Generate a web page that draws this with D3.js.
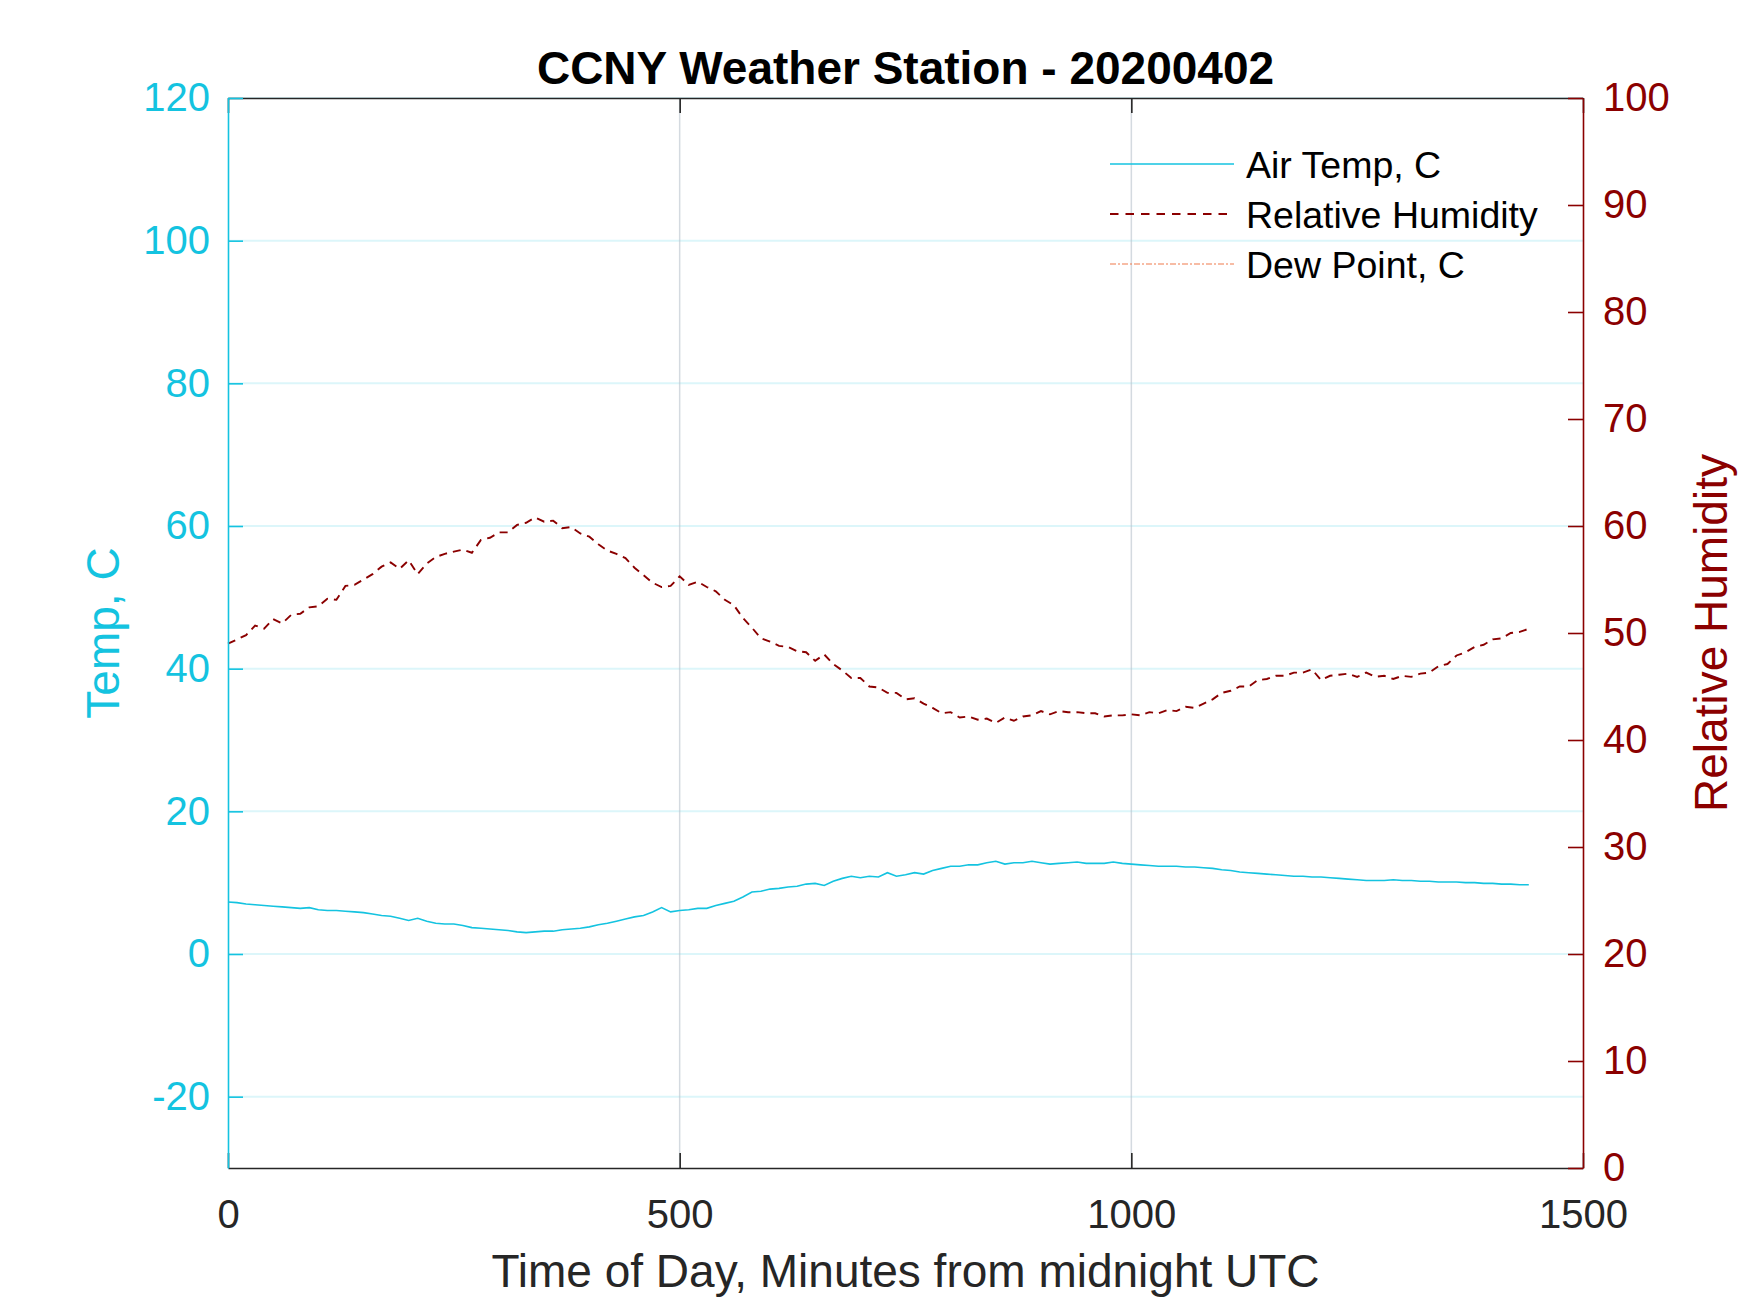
<!DOCTYPE html>
<html>
<head>
<meta charset="utf-8">
<script src="https://cdn.jsdelivr.net/npm/d3@7/dist/d3.min.js"></script>
<style>
	body { margin: 0; background: #fff; }
	text { font-family: "Liberation Sans", Arial, Helvetica, sans-serif; }
</style>
</head>
<body>
<svg id="chart" width="1750" height="1313"></svg>
<script>
// samples every 10 minutes
var sampleStep = 10;

var airTemp = [
	7.3, 7.2, 7.0, 6.9, 6.8, 6.7, 6.6, 6.5, 6.4, 6.5,
	6.2, 6.1, 6.1, 6.0, 5.9, 5.8, 5.6, 5.4, 5.3, 5.0,
	4.7, 5.0, 4.6, 4.3, 4.2, 4.2, 4.0, 3.7, 3.6, 3.5,
	3.4, 3.3, 3.1, 3.0, 3.1, 3.2, 3.2, 3.4, 3.5, 3.6,
	3.8, 4.1, 4.3, 4.6, 4.9, 5.2, 5.4, 5.9, 6.5, 5.9,
	6.1, 6.2, 6.4, 6.4, 6.8, 7.1, 7.4, 8.0, 8.7, 8.8,
	9.1, 9.2, 9.4, 9.5, 9.8, 9.9, 9.6, 10.2, 10.6, 10.9,
	10.7, 10.9, 10.8, 11.4, 10.9, 11.1, 11.4, 11.2, 11.7, 12.0,
	12.3, 12.3, 12.5, 12.5, 12.8, 13.0, 12.6, 12.8, 12.8, 13.0,
	12.8, 12.6, 12.7, 12.8, 12.9, 12.7, 12.7, 12.7, 12.9, 12.7,
	12.6, 12.5, 12.4, 12.3, 12.3, 12.3, 12.2, 12.2, 12.1, 12.0,
	11.8, 11.7, 11.5, 11.4, 11.3, 11.2, 11.1, 11.0, 10.9, 10.9,
	10.8, 10.8, 10.7, 10.6, 10.5, 10.4, 10.3, 10.3, 10.3, 10.4,
	10.3, 10.3, 10.2, 10.2, 10.1, 10.1, 10.1, 10.0, 10.0, 9.9,
	9.9, 9.8, 9.8, 9.7, 9.7
];

var relHumidity = [
	49.0, 49.4, 49.8, 50.7, 50.4, 51.3, 50.9, 51.7, 51.8, 52.4,
	52.5, 53.2, 53.1, 54.4, 54.5, 55.0, 55.5, 56.2, 56.6, 56.0,
	56.8, 55.5, 56.5, 57.1, 57.4, 57.6, 57.8, 57.5, 58.7, 58.9,
	59.4, 59.4, 60.1, 60.3, 60.8, 60.4, 60.5, 59.8, 59.9, 59.3,
	59.0, 58.3, 57.7, 57.4, 57.0, 56.1, 55.4, 54.7, 54.3, 54.4,
	55.3, 54.5, 54.8, 54.3, 53.9, 53.1, 52.6, 51.4, 50.5, 49.5,
	49.2, 48.8, 48.7, 48.3, 48.2, 47.4, 48.0, 47.1, 46.5, 45.8,
	45.8, 45.0, 44.9, 44.4, 44.4, 43.8, 43.9, 43.4, 43.0, 42.5,
	42.6, 42.1, 42.2, 41.9, 42.0, 41.6, 42.1, 41.8, 42.2, 42.3,
	42.7, 42.4, 42.7, 42.6, 42.6, 42.5, 42.5, 42.2, 42.3, 42.3,
	42.4, 42.3, 42.6, 42.5, 42.8, 42.7, 43.1, 43.0, 43.4, 43.8,
	44.4, 44.6, 45.0, 45.0, 45.6, 45.7, 46.0, 46.0, 46.3, 46.3,
	46.6, 45.6, 46.0, 46.1, 46.2, 45.9, 46.3, 45.9, 46.0, 45.7,
	46.0, 45.9, 46.2, 46.3, 46.9, 47.1, 47.9, 48.2, 48.7, 48.9,
	49.4, 49.5, 50.0, 50.1, 50.4
];

var xTicks = [0, 500, 1000, 1500];
var tempTicks = [-20, 0, 20, 40, 60, 80, 100, 120];
var rhTicks = [0, 10, 20, 30, 40, 50, 60, 70, 80, 90, 100];
var legendLabels = ["Air Temp, C", "Relative Humidity", "Dew Point, C"];

var tempColor = "#14c3e0";
var rhColor = "#8b0000";
var dewColor = "#f07a4c";
var boxColor = "#262626";

var svg = d3.select("#chart");
var margin = {left: 228, right: 1583, top: 98, bottom: 1168};
var tickLen = 15;

var x = d3.scaleLinear().domain([0, 1500]).range([margin.left, margin.right]);
var yTemp = d3.scaleLinear().domain([-30, 120]).range([margin.bottom, margin.top]);
var yRh = d3.scaleLinear().domain([0, 100]).range([margin.bottom, margin.top]);

// plain labels, hyphen minus and no thousands comma
var plainNumber = function(d) { return String(d); };

// grid
svg.append("g").selectAll("line.hgrid").data(tempTicks).enter().append("line")
	.classed("hgrid", 1)
	.attr("x1", margin.left).attr("x2", margin.right)
	.attr("y1", function(d) { return yTemp(d); })
	.attr("y2", function(d) { return yTemp(d); })
	.attr("stroke", tempColor).attr("stroke-opacity", 0.15).attr("stroke-width", 2);

svg.append("g").selectAll("line.vgrid").data(xTicks.slice(1, 3)).enter().append("line")
	.classed("vgrid", 1)
	.attr("x1", function(d) { return x(d); })
	.attr("x2", function(d) { return x(d); })
	.attr("y1", margin.top).attr("y2", margin.bottom)
	.attr("stroke", "#b8c2cc").attr("stroke-opacity", 0.6).attr("stroke-width", 1.5);

// data lines
var tempLine = d3.line()
	.x(function(d, i) { return x(i * sampleStep); })
	.y(function(d) { return yTemp(d); });

var rhLine = d3.line()
	.x(function(d, i) { return x(i * sampleStep); })
	.y(function(d) { return yRh(d); });

svg.append("path").datum(airTemp)
	.attr("d", tempLine)
	.attr("fill", "none")
	.attr("stroke", tempColor)
	.attr("stroke-width", 1.6);

svg.append("path").datum(relHumidity)
	.attr("d", rhLine)
	.attr("fill", "none")
	.attr("stroke", rhColor)
	.attr("stroke-width", 1.9)
	.attr("stroke-dasharray", "8,6");

// axes
var bottomAxis = d3.axisBottom(x).tickValues(xTicks).tickFormat(plainNumber).tickSizeInner(-tickLen).tickSizeOuter(0).tickPadding(32);
var topAxis = d3.axisTop(x).tickValues(xTicks).tickSizeInner(-tickLen).tickSizeOuter(0).tickFormat("");
var leftAxis = d3.axisLeft(yTemp).tickValues(tempTicks).tickFormat(plainNumber).tickSizeInner(-tickLen).tickSizeOuter(0).tickPadding(18);
var rightAxis = d3.axisRight(yRh).tickValues(rhTicks).tickFormat(plainNumber).tickSizeInner(-tickLen).tickSizeOuter(0).tickPadding(20);

function styleAxis(g, color)
{
	g.select(".domain").attr("stroke", color).attr("stroke-width", 1.6);
	g.selectAll(".tick line").attr("stroke", color).attr("stroke-width", 1.6);
	g.selectAll(".tick text")
		.attr("fill", color)
		.attr("font-size", "40px")
		.attr("font-family", "Liberation Sans, Arial, sans-serif");
}

svg.append("g").attr("transform", "translate(0," + margin.bottom + ")").call(bottomAxis).call(styleAxis, boxColor);
svg.append("g").attr("transform", "translate(0," + margin.top + ")").call(topAxis).call(styleAxis, boxColor);
svg.append("g").attr("transform", "translate(" + margin.left + ",0)").call(leftAxis).call(styleAxis, tempColor);
svg.append("g").attr("transform", "translate(" + margin.right + ",0)").call(rightAxis).call(styleAxis, rhColor);

// titles
svg.append("text")
	.text("CCNY Weather Station - 20200402")
	.attr("x", (margin.left + margin.right) / 2)
	.attr("y", 84)
	.attr("text-anchor", "middle")
	.attr("font-size", "46px")
	.attr("font-weight", "bold")
	.attr("fill", "#000");

svg.append("text")
	.text("Time of Day, Minutes from midnight UTC")
	.attr("x", (margin.left + margin.right) / 2)
	.attr("y", 1287)
	.attr("text-anchor", "middle")
	.attr("font-size", "46px")
	.attr("fill", boxColor);

svg.append("text")
	.text("Temp, C")
	.attr("transform", "translate(119," + (margin.top + margin.bottom) / 2 + ") rotate(-90)")
	.attr("text-anchor", "middle")
	.attr("font-size", "46px")
	.attr("fill", tempColor);

svg.append("text")
	.text("Relative Humidity")
	.attr("transform", "translate(1727," + (margin.top + margin.bottom) / 2 + ") rotate(-90)")
	.attr("text-anchor", "middle")
	.attr("font-size", "46px")
	.attr("fill", rhColor);

// legend
var legendStyles = [
	{color: tempColor, dash: null, width: 1.6},
	{color: rhColor, dash: "8.5,7", width: 1.9},
	{color: dewColor, dash: "6,2,2,2", width: 1.2}
];

var legendRows = svg.append("g").selectAll("g.legendRow").data(legendLabels).enter().append("g")
	.classed("legendRow", 1)
	.attr("transform", function(d, i) { return "translate(1110," + (164 + 50 * i) + ")"; });

legendRows.append("line")
	.attr("x1", 0).attr("x2", 124).attr("y1", 0).attr("y2", 0)
	.attr("stroke", function(d, i) { return legendStyles[i].color; })
	.attr("stroke-width", function(d, i) { return legendStyles[i].width; })
	.attr("stroke-dasharray", function(d, i) { return legendStyles[i].dash; });

legendRows.append("text")
	.text(function(d) { return d; })
	.attr("x", 136)
	.attr("y", 14)
	.attr("font-size", "37.5px")
	.attr("fill", "#000");
</script>
</body>
</html>
